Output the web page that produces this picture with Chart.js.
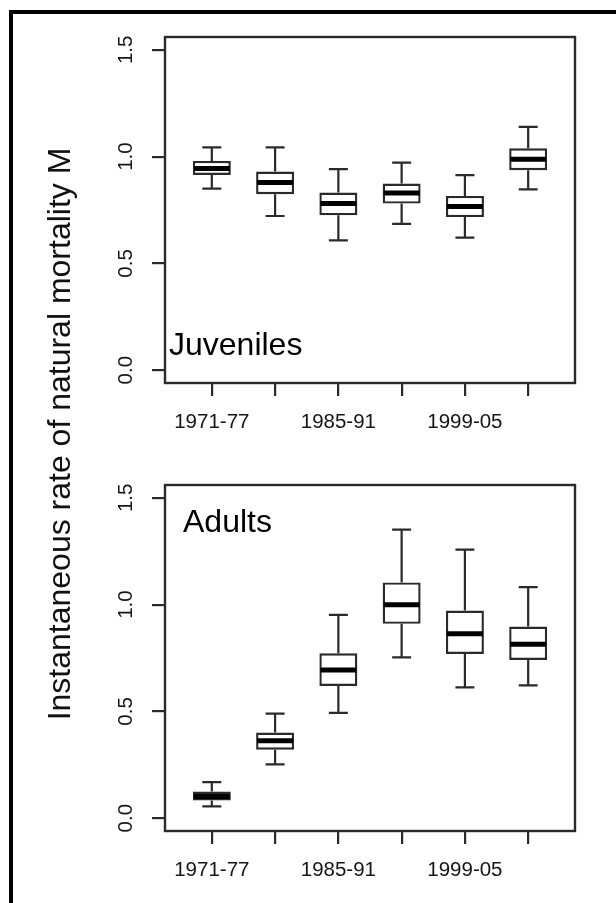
<!DOCTYPE html>
<html>
<head>
<meta charset="utf-8">
<script src="https://cdn.jsdelivr.net/npm/chart.js@4.4.1/dist/chart.umd.min.js"></script>
<style>
  html, body { margin: 0; padding: 0; background: #fff; width: 616px; height: 903px; overflow: hidden; position: relative; }
  #frame { position: absolute; left: 9px; top: 10px; width: 700px; height: 1000px; border: 4px solid #000; box-sizing: border-box; }
  .panel { position: absolute; left: 0; width: 616px; height: 450px; }
  .panel canvas { display: block; }
  #ytitle {
    position: absolute; left: 59px; top: 434px; width: 700px; height: 32px;
    margin-left: -350px; margin-top: -16px; transform: rotate(-90deg);
    text-align: center; font: 32px "Liberation Sans", Arial, sans-serif; line-height: 32px;
    color: #111; white-space: nowrap;
  }
</style>
</head>
<body>
<div id="frame"></div>
<div class="panel" style="top:0"><canvas id="juv" width="616" height="450"></canvas></div>
<div class="panel" style="top:448px"><canvas id="adu" width="616" height="450"></canvas></div>
<div id="ytitle">Instantaneous rate of natural mortality M</div>
<script>
// Periods on the x axis and the labels printed under it
const periods = ['1971-77', '1978-84', '1985-91', '1992-98', '1999-05', '2006-12'];
const shownTickLabels = ['1971-77', '1985-91', '1999-05'];
const yTicks = [0, 0.5, 1.0, 1.5];

// Juveniles: whisker ends, quartiles and medians per period
const juvLow  = [0.850, 0.722, 0.608, 0.685, 0.621, 0.847];
const juvQ1   = [0.914, 0.824, 0.725, 0.780, 0.717, 0.936];
const juvMed  = [0.944, 0.879, 0.780, 0.830, 0.766, 0.988];
const juvQ3   = [0.980, 0.930, 0.832, 0.874, 0.816, 1.039];
const juvHigh = [1.043, 1.043, 0.941, 0.972, 0.913, 1.139];

// Adults
const aduLow  = [0.055, 0.252, 0.493, 0.753, 0.612, 0.622];
const aduQ1   = [0.083, 0.321, 0.619, 0.910, 0.769, 0.741];
const aduMed  = [0.102, 0.362, 0.694, 0.999, 0.863, 0.814];
const aduQ3   = [0.125, 0.401, 0.772, 1.104, 0.972, 0.897];
const aduHigh = [0.169, 0.490, 0.952, 1.351, 1.257, 1.082];

Chart.defaults.font.family = '"Liberation Sans", Arial, sans-serif';

const LINE = '#2a2a2a';
const TEXT = '#161616';

// Whiskers, staples, medians, plot frame and panel caption
function boxPlugin(stats, caption, captionPos) {
  return {
    id: 'boxWhiskers',
    afterDatasetsDraw(chart) {
      const { ctx } = chart;
      const y = chart.scales.y;
      const meta = chart.getDatasetMeta(0);
      ctx.save();
      meta.data.forEach((bar, i) => {
        const { x, width } = bar.getProps(['x', 'width'], true);
        const half = width / 2, cap = width / 4;
        const pLo = y.getPixelForValue(stats.low[i]);
        const pQ1 = y.getPixelForValue(stats.q1[i]);
        const pMed = y.getPixelForValue(stats.med[i]);
        const pQ3 = y.getPixelForValue(stats.q3[i]);
        const pHi = y.getPixelForValue(stats.high[i]);
        ctx.strokeStyle = LINE;
        ctx.lineWidth = 2.2;
        ctx.lineCap = 'butt';
        ctx.beginPath();
        ctx.moveTo(x, pQ3); ctx.lineTo(x, pHi);
        ctx.moveTo(x - cap, pHi); ctx.lineTo(x + cap, pHi);
        ctx.moveTo(x, pQ1); ctx.lineTo(x, pLo);
        ctx.moveTo(x - cap, pLo); ctx.lineTo(x + cap, pLo);
        ctx.stroke();
        ctx.strokeStyle = '#000';
        ctx.lineWidth = 5;
        ctx.beginPath();
        ctx.moveTo(x - half + 1, pMed); ctx.lineTo(x + half - 1, pMed);
        ctx.stroke();
      });
      ctx.restore();
    },
    afterDraw(chart) {
      const { ctx, chartArea: a } = chart;
      ctx.save();
      ctx.strokeStyle = LINE;
      ctx.lineWidth = 2.4;
      ctx.strokeRect(a.left, a.top, a.right - a.left, a.bottom - a.top);
      ctx.fillStyle = '#000';
      ctx.font = '32px "Liberation Sans", Arial, sans-serif';
      ctx.textAlign = 'left';
      ctx.textBaseline = 'alphabetic';
      const by = captionPos.fromTop != null ? a.top + captionPos.fromTop : a.bottom - captionPos.fromBottom;
      ctx.fillText(caption, a.left + captionPos.dx, by);
      ctx.restore();
    }
  };
}

function makePanel(id, stats, caption, captionPos) {
  const tickFont = { family: '"Liberation Sans", Arial, sans-serif', size: 20.5 };
  return new Chart(document.getElementById(id), {
    type: 'bar',
    data: {
      datasets: [{
        data: periods.map((_, i) => ({ x: i + 1, y: [stats.q1[i], stats.q3[i]] })),
        backgroundColor: '#fff',
        borderColor: LINE,
        borderWidth: 2.4,
        borderSkipped: false,
        barPercentage: 0.6,
        categoryPercentage: 1.0
      }]
    },
    options: {
      responsive: false,
      animation: false,
      devicePixelRatio: 1,
      events: [],
      layout: { padding: { top: 37, right: 41, left: 0, bottom: 0 } },
      plugins: { legend: { display: false }, tooltip: { enabled: false } },
      scales: {
        x: {
          type: 'linear',
          min: 0.26, max: 6.74,
          offset: false,
          afterBuildTicks: s => { s.ticks = periods.map((_, i) => ({ value: i + 1 })); },
          afterFit: s => { s.height = 67; },
          grid: { offset: false, drawOnChartArea: false, drawTicks: true, tickLength: 13, color: LINE, lineWidth: 2.2 },
          border: { display: false },
          ticks: {
            autoSkip: false, minRotation: 0, maxRotation: 0, padding: 14,
            color: TEXT, font: tickFont,
            callback: v => {
              const l = periods[Math.round(v) - 1];
              return shownTickLabels.includes(l) ? l : '';
            }
          }
        },
        y: {
          type: 'linear',
          min: -0.06, max: 1.56,
          beginAtZero: false,
          afterBuildTicks: s => { s.ticks = yTicks.map(v => ({ value: v })); },
          afterFit: s => { s.width = 165; },
          grid: { drawOnChartArea: false, drawTicks: true, tickLength: 13, color: LINE, lineWidth: 2.2 },
          border: { display: false },
          ticks: {
            minRotation: 90, maxRotation: 90, crossAlign: 'center', padding: 11,
            color: TEXT, font: tickFont,
            callback: v => Number(v).toFixed(1)
          }
        }
      }
    },
    plugins: [boxPlugin(stats, caption, captionPos)]
  });
}

makePanel('juv', { low: juvLow, q1: juvQ1, med: juvMed, q3: juvQ3, high: juvHigh },
  'Juveniles', { dx: 4, fromBottom: 28 });
makePanel('adu', { low: aduLow, q1: aduQ1, med: aduMed, q3: aduQ3, high: aduHigh },
  'Adults', { dx: 18, fromTop: 47 });
</script>
</body>
</html>
